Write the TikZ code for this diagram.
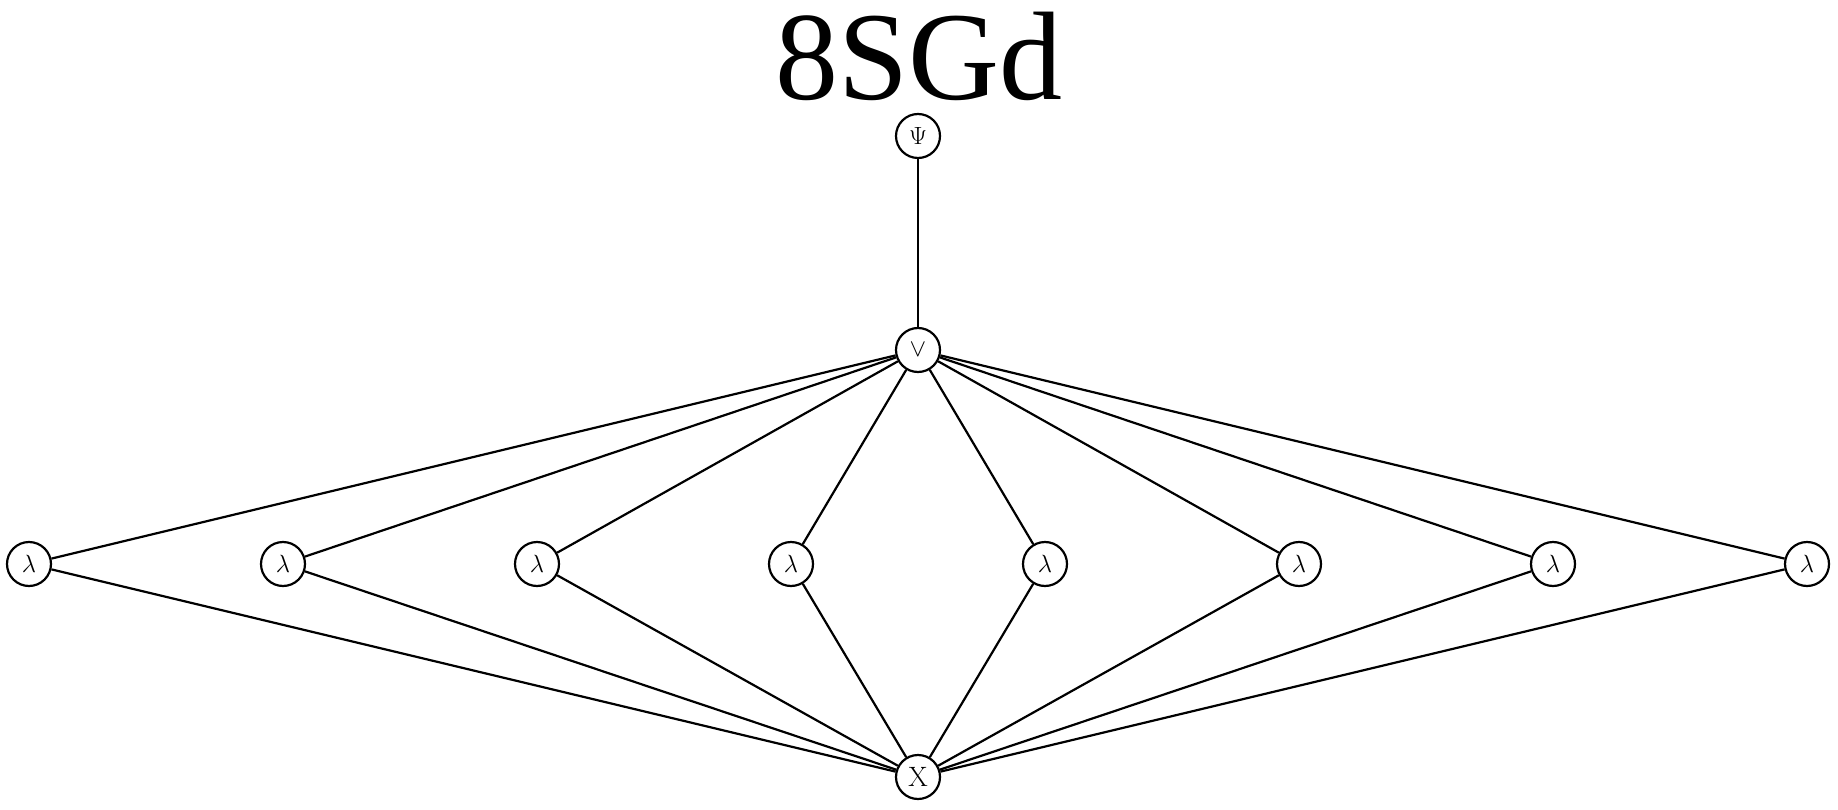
\documentclass[tikz,border=0pt]{standalone}
\usepackage{fontspec}
\newfontfamily\titlefont{Liberation Serif}
\begin{document}
\begin{tikzpicture}[x=1pt,y=-1pt,
  vtx/.style={circle,draw,line width=2.2pt,minimum size=44pt,inner sep=0pt,font=\fontsize{28}{30}\selectfont},
  edge/.style={line width=2.2pt}]
\useasboundingbox (0,0) rectangle (1838,810);
\node[font=\titlefont\fontsize{126}{130}\selectfont,anchor=base] (t) at (919,100) {8SGd};
\node[vtx] (psi) at (918,136) {$\Psi$};
\node[vtx] (v) at (918,350) {$\vee$};
\node[vtx] (x) at (918,777) {X};
\foreach \i/\xx in {1/29,2/283,3/537,4/791,5/1045,6/1299,7/1553,8/1807}{
  \node[vtx] (l\i) at (\xx,564) {$\lambda$};
  \draw[edge] (v) -- (l\i);
  \draw[edge] (l\i) -- (x);
}
\draw[edge] (psi) -- (v);
\end{tikzpicture}
\end{document}
